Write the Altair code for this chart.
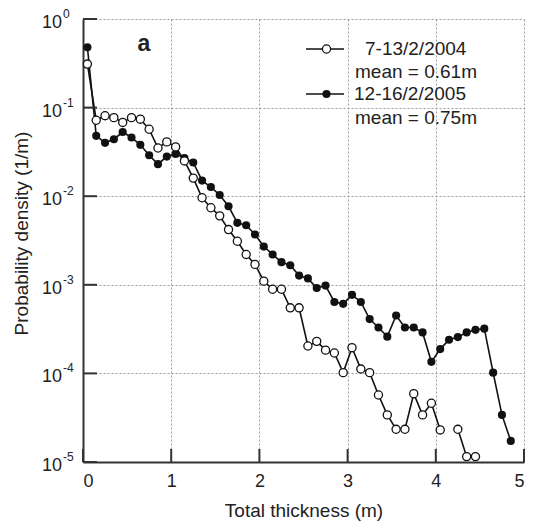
import altair as alt
import pandas as pd

# ---------------- data ----------------
thickness = [0.05, 0.15, 0.25, 0.35, 0.45, 0.55, 0.65, 0.75, 0.85, 0.95,
             1.05, 1.15, 1.25, 1.35, 1.45, 1.55, 1.65, 1.75, 1.85, 1.95,
             2.05, 2.15, 2.25, 2.35, 2.45, 2.55, 2.65, 2.75, 2.85, 2.95,
             3.05, 3.15, 3.25, 3.35, 3.45, 3.55, 3.65, 3.75, 3.85, 3.95,
             4.05, 4.15, 4.25, 4.35, 4.45, 4.55, 4.65, 4.75, 4.85]

# 12-16/2/2005 (filled circles)
dens_2005 = [0.48, 0.048, 0.040, 0.044, 0.053, 0.046, 0.038, 0.029, 0.023, 0.028,
             0.030, 0.027, 0.024, 0.015, 0.0127, 0.0103, 0.0077, 0.0050, 0.0047, 0.0037,
             0.0027, 0.0022, 0.0018, 0.00166, 0.00127, 0.00118, 0.00092, 0.00098, 0.00064, 0.00061,
             0.00077, 0.00064, 0.00041, 0.00033, 0.00026, 0.00045, 0.00033, 0.00033, 0.00029, 0.000135,
             0.000188, 0.00024, 0.000257, 0.00029, 0.00031, 0.00032, 0.000102, 0.000034, 0.0000173]

# 7-13/2/2004 (open circles); None = empty bin (line break)
dens_2004 = [0.31, 0.072, 0.081, 0.077, 0.068, 0.077, 0.074, 0.057, 0.035, 0.041,
             0.036, 0.025, 0.016, 0.0096, 0.0074, 0.0060, 0.0042, 0.0031, 0.0022, 0.0017,
             0.0011, 0.00089, 0.00089, 0.00055, 0.00055, 0.000204, 0.00023, 0.000183, 0.00017, 0.000102,
             0.000195, 0.000112, 0.000102, 0.000057, 0.000034, 0.0000234, 0.0000234, 0.000059, 0.000034, 0.000046,
             0.000023, None, 0.0000234, 0.0000115, 0.0000115]

x_ticks = [0, 1, 2, 3, 4, 5]
y_ticks = [1, 0.1, 0.01, 0.001, 0.0001, 0.00001]
y_exponents = ["0", "-1", "-2", "-3", "-4", "-5"]

legend_labels = ["7-13/2/2004", "mean = 0.61m", "12-16/2/2005", "mean = 0.75m"]
panel_label = "a"

# ---------------- tables ----------------
rows = []
for t, p in zip(thickness, dens_2005):
    rows.append({"t": t, "p": p, "series": "2005", "seg": "2005-0"})
seg = 0
for t, p in zip(thickness, dens_2004):
    if p is None:
        seg += 1
        continue
    rows.append({"t": t, "p": p, "series": "2004", "seg": f"2004-{seg}"})
df = pd.DataFrame(rows)

xt_df = pd.DataFrame({"t": x_ticks})
yt_df = pd.DataFrame({"p": y_ticks, "e": y_exponents})
one = pd.DataFrame({"d": [0]})

W, H = 441, 443
FONT = "Liberation Sans"
INK = "#111111"
TXT = "#222222"

xs = alt.Scale(domain=[0, 5], nice=False, zero=False)
ys = alt.Scale(type="log", domain=[1e-5, 1], nice=False)

grid_props = dict(grid=True, gridDash=[2, 2], gridColor="#9a9a9a", gridWidth=1,
                  ticks=False, domain=True, domainColor="#333333", domainWidth=2)

X = alt.X("t:Q", scale=xs, axis=alt.Axis(
    values=x_ticks, format="d", labelFontSize=18, labelPadding=10, labelColor=TXT,
    labelFont=FONT, title="Total thickness (m)", titleFontSize=19, titleFont=FONT,
    titleFontWeight="normal", titleColor=TXT, titleY=48, titleBaseline="middle",
    **grid_props))
Y = alt.Y("p:Q", scale=ys, axis=alt.Axis(
    values=y_ticks, labels=False, title="Probability density (1/m)", titleFontSize=19,
    titleFont=FONT, titleFontWeight="normal", titleColor=TXT,
    titleX=-62, titleY=214, titleBaseline="middle", **grid_props))

base = alt.Chart(df)

line_2005 = base.transform_filter("datum.series == '2005'").mark_line(
    color=INK, strokeWidth=1.6).encode(x=X, y=Y, detail="seg:N")
pts_2005 = base.transform_filter("datum.series == '2005'").mark_point(
    shape="circle", filled=True, color=INK, size=66, opacity=1).encode(x=X, y=Y)

line_2004 = base.transform_filter("datum.series == '2004'").mark_line(
    color=INK, strokeWidth=1.6).encode(x=X, y=Y, detail="seg:N")
pts_2004 = base.transform_filter("datum.series == '2004'").mark_point(
    shape="circle", filled=True, fill="white", stroke=INK, strokeWidth=1.3,
    size=66, opacity=1).encode(x=X, y=Y)

# inward ticks
xticks = alt.Chart(xt_df).mark_rule(color="#333333", strokeWidth=2).encode(
    x=X, y=alt.value(H), y2=alt.value(H - 13))
yticks = alt.Chart(yt_df).mark_rule(color="#333333", strokeWidth=2).encode(
    y=Y, x=alt.value(0), x2=alt.value(14))

# y labels 10^n
ylab_base = alt.Chart(yt_df).mark_text(
    text="10", align="right", baseline="middle", fontSize=18, font=FONT,
    color=TXT, dy=4).encode(y=Y, x=alt.value(-21))
ylab_exp = alt.Chart(yt_df).mark_text(
    align="left", baseline="middle", fontSize=12, font=FONT,
    color=TXT, dy=-5).encode(y=Y, x=alt.value(-20), text="e:N")

# legend
leg = []
for yy, filled in [(30, False), (75, True)]:
    leg.append(alt.Chart(one).mark_rule(color=INK, strokeWidth=1.6).encode(
        x=alt.value(223), x2=alt.value(261), y=alt.value(yy)))
    if filled:
        leg.append(alt.Chart(one).mark_point(shape="circle", filled=True, color=INK,
                                             size=66, opacity=1).encode(
            x=alt.value(243.5), y=alt.value(yy)))
    else:
        leg.append(alt.Chart(one).mark_point(shape="circle", filled=True, fill="white",
                                             stroke=INK, strokeWidth=1.3, size=66,
                                             opacity=1).encode(
            x=alt.value(243.5), y=alt.value(yy)))
for txt, xx, yy in zip(legend_labels, [282, 272, 271, 272], [29.5, 52.5, 75, 98.5]):
    leg.append(alt.Chart(one).mark_text(align="left", baseline="middle", fontSize=19,
                                        font=FONT, color=TXT).encode(
        x=alt.value(xx), y=alt.value(yy), text=alt.value(txt)))

panel = alt.Chart(one).mark_text(align="center", baseline="middle", fontSize=23,
                                 fontWeight="bold", font=FONT, color=TXT).encode(
    x=alt.value(61), y=alt.value(25), text=alt.value(panel_label))

chart = alt.layer(
    line_2005, line_2004, pts_2005, pts_2004, xticks, yticks, ylab_base, ylab_exp,
    panel, *leg
).properties(
    width=W, height=H,
    autosize=alt.AutoSizeParams(type="none"),
    padding={"left": 75, "top": 11, "right": 1, "bottom": 61},
).configure(font=FONT).configure_view(strokeWidth=0)

chart.save("out.html", embed_options={"renderer": "svg", "actions": False})
